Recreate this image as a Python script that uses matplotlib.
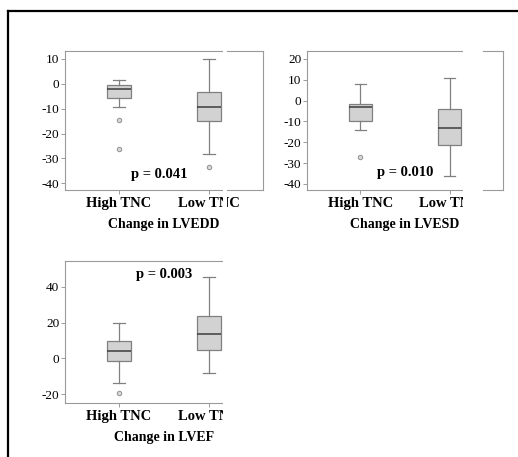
import matplotlib
matplotlib.use("Agg")
import matplotlib.pyplot as plt
from matplotlib.patches import Rectangle
from matplotlib.lines import Line2D

groups = ["High TNC", "Low TNC"]

# whislo, q1, med, q3, whishi for each group
lvedd_box = [[-9.2, -5.6, -2.0, -0.5, 1.5], [-28.3, -14.8, -9.2, -3.2, 10.0]]
lvedd_fliers = [[-14.4, -26.4], [-33.3]]
lvesd_box = [[-14.1, -9.9, -3.1, -1.4, 8.0], [-36.3, -21.1, -13.1, -4.2, 11.0]]
lvesd_fliers = [[-27.2], []]
lvef_box = [[-14.0, -1.5, 4.3, 9.7, 19.6], [-8.0, 4.6, 13.6, 23.8, 45.6]]
lvef_fliers = [[-19.2], []]

p_values = ["p = 0.041", "p = 0.010", "p = 0.003"]
xlabels = ["Change in LVEDD", "Change in LVESD", "Change in LVEF"]

plt.rcParams['font.family'] = ['Liberation Serif', 'DejaVu Serif']

W, H = 518, 457
fig = plt.figure(figsize=(W / 100, H / 100), dpi=100)


def px(x0, y0, x1, y1):
    # pixel box (top-left origin) -> figure rect
    return [x0 / W, 1 - y1 / H, (x1 - x0) / W, (y1 - y0) / H]


def panel(rect, box, fliers, ylim, yticks, ptxt, pxy, xlabel):
    ax = fig.add_axes(rect)
    stats = []
    for name, b, f in zip(groups, box, fliers):
        stats.append(dict(label=name, whislo=b[0], q1=b[1], med=b[2],
                          q3=b[3], whishi=b[4], fliers=f))
    ax.bxp(stats, positions=[1, 2], widths=0.26, patch_artist=True,
           boxprops=dict(facecolor='#d2d2d2', edgecolor='#808080', linewidth=0.9),
           medianprops=dict(color='#3c3c3c', linewidth=1.1),
           whiskerprops=dict(color='#808080', linewidth=0.9),
           capprops=dict(color='#808080', linewidth=0.9),
           capwidths=0.13,
           flierprops=dict(marker='o', markersize=3.2, markerfacecolor='#d8d8d8',
                           markeredgecolor='#909090', markeredgewidth=0.7))
    ax.set_xlim(0.4, 2.6)
    ax.set_ylim(*ylim)
    ax.set_yticks(yticks)
    ax.set_yticklabels([str(t) for t in yticks])
    for s in ax.spines.values():
        s.set_color('#9a9a9a')
        s.set_linewidth(0.8)
    ax.tick_params(axis='y', length=3, width=0.7, color='#9a9a9a', pad=1, labelsize=9.5)
    ax.tick_params(axis='x', length=3, width=0.7, color='#9a9a9a', pad=2, labelsize=10.5)
    for t in ax.get_xticklabels():
        t.set_fontweight('bold')
    ax.set_xlabel(xlabel, fontsize=10, fontweight='bold', labelpad=6)
    ax.text(pxy[0], pxy[1], ptxt, ha='center', va='center', fontsize=10.5,
            fontweight='bold', transform=ax.transData)
    return ax


panel(px(65, 51, 263, 190), lvedd_box, lvedd_fliers, (-42.7, 13.2),
      [10, 0, -10, -20, -30, -40], p_values[0], (1.45, -36.5), xlabels[0])
panel(px(307, 51, 503, 190), lvesd_box, lvesd_fliers, (-42.9, 23.8),
      [20, 10, 0, -10, -20, -30, -40], p_values[1], (1.5, -34.5), xlabels[1])
panel(px(65, 261, 263, 403), lvef_box, lvef_fliers, (-25, 54.4),
      [40, 20, 0, -20], p_values[2], (1.5, 47), xlabels[2])

# white strips where the source image was cut
for x0, y0, x1, y1 in [(223, 40, 227, 215), (463, 40, 483, 215), (223, 245, 518, 457)]:
    fig.patches.append(Rectangle((x0 / W, 1 - y1 / H), (x1 - x0) / W, (y1 - y0) / H,
                                 transform=fig.transFigure, facecolor='white',
                                 edgecolor='none', zorder=10))

# black outer frame (left and top only)
fig.lines.append(Line2D([7.5 / W, 7.5 / W], [0, 1 - 10.5 / H], transform=fig.transFigure,
                        color='black', linewidth=1.6, zorder=11))
fig.lines.append(Line2D([7.5 / W, 1], [1 - 10.5 / H, 1 - 10.5 / H], transform=fig.transFigure,
                        color='black', linewidth=1.6, zorder=11))

fig.savefig("out.png", dpi=100)
